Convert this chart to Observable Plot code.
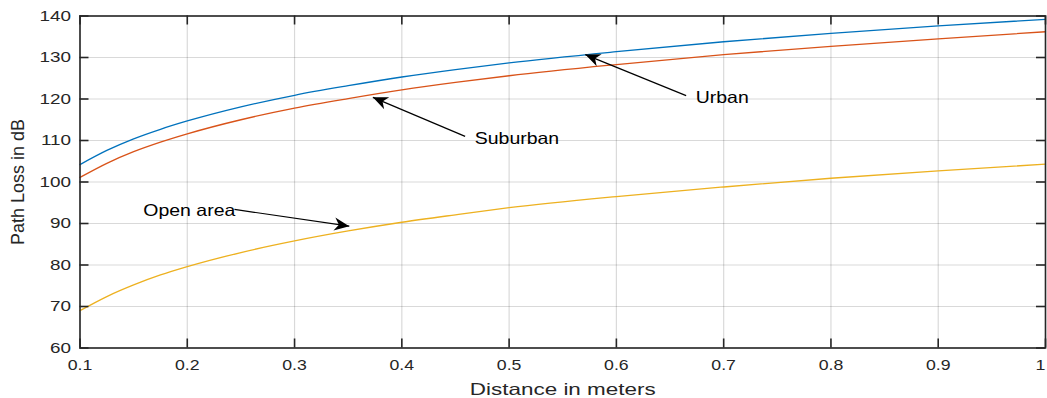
<!DOCTYPE html>
<html><head><meta charset="utf-8">
<script src="https://cdn.jsdelivr.net/npm/d3@7"></script>
<script src="https://cdn.jsdelivr.net/npm/@observablehq/plot@0.6"></script>
<style>
html,body{margin:0;padding:0;background:#fff;}
#chart svg{display:block;}
</style></head><body><div id="chart"></div>
<script>
// Data
const distance = [0.1, 0.125, 0.15, 0.175, 0.2, 0.25, 0.3, 0.35, 0.4, 0.45, 0.5, 0.6, 0.7, 0.8, 0.9, 1.0];
const urban    = [104.2, 107.6, 110.4, 112.7, 114.7, 118.1, 120.9, 123.2, 125.3, 127.1, 128.7, 131.4, 133.8, 135.8, 137.6, 139.2];
const suburban = [101.1, 104.5, 107.3, 109.6, 111.6, 115.0, 117.8, 120.1, 122.2, 124.0, 125.6, 128.3, 130.7, 132.7, 134.5, 136.2];
const openArea = [69.0, 72.4, 75.2, 77.6, 79.6, 83.0, 85.8, 88.2, 90.3, 92.1, 93.8, 96.5, 98.8, 100.9, 102.7, 104.3];

const seriesNames = ["Urban", "Suburban", "Open area"];
const seriesColors = ["#0072BD", "#D95319", "#EDB120"];

const xTicks = [0.1, 0.2, 0.3, 0.4, 0.5, 0.6, 0.7, 0.8, 0.9, 1.0];
const xTickLabels = ["0.1", "0.2", "0.3", "0.4", "0.5", "0.6", "0.7", "0.8", "0.9", "1"];
const yTicks = [60, 70, 80, 90, 100, 110, 120, 130, 140];
const yTickLabels = ["60", "70", "80", "90", "100", "110", "120", "130", "140"];

// Annotations: text anchor and arrow (tail -> tip) in data units
const noteText  = ["Urban", "Suburban", "Open area"];
const noteX     = [0.674, 0.468, 0.159];
const noteY     = [120.4, 110.5, 93.1];
const arrowX1   = [0.665, 0.459, 0.244];
const arrowY1   = [120.8, 111.0, 93.4];
const arrowX2   = [0.571, 0.373, 0.351];
const arrowY2   = [130.7, 120.4, 89.35];

const rows = [];
[urban, suburban, openArea].forEach((vals, s) => {
  distance.forEach((d, i) => rows.push({series: seriesNames[s], d, v: vals[i]}));
});
const notes = noteText.map((t, i) => ({t, x: noteX[i], y: noteY[i], x1: arrowX1[i], y1: arrowY1[i], x2: arrowX2[i], y2: arrowY2[i]}));

function headMarker(color) {
  const m = d3.create("svg:marker")
    .attr("viewBox", "-17 -8 19 16")
    .attr("markerWidth", 19).attr("markerHeight", 16)
    .attr("markerUnits", "userSpaceOnUse")
    .attr("orient", "auto")
    .attr("fill", color).attr("stroke", "none");
  m.append("path").attr("d", "M0,0L-15,-6.5L-10.5,0L-15,6.5Z");
  return m.node();
}

const W = 1047, H = 398, mL = 79.5, mR = 2, mT = 15.5, mB = 50.5, tick = 9;
const innerW = W - mL - mR, innerH = H - mT - mB;
const ink = "#262626";
const chart = Plot.plot({
  width: W, height: H,
  marginLeft: mL, marginRight: mR, marginTop: mT, marginBottom: mB,
  style: {fontFamily: "'Liberation Sans', Arial, sans-serif", fontSize: "15px", color: ink, background: "#fff"},
  x: {domain: [0.1, 1]},
  y: {domain: [60, 140]},
  color: {domain: seriesNames, range: seriesColors},
  marks: [
    Plot.gridX(xTicks, {stroke: "#000", strokeOpacity: 0.15, strokeWidth: 1.2}),
    Plot.gridY(yTicks, {stroke: "#000", strokeOpacity: 0.15, strokeWidth: 1.2}),
    Plot.line(rows, {x: "d", y: "v", z: "series", stroke: "series", strokeWidth: 1.3, curve: "monotone-x"}),
    Plot.link(notes, {x1: "x1", y1: "y1", x2: "x2", y2: "y2", stroke: "#000", strokeWidth: 1.2, markerEnd: headMarker}),
    Plot.text(notes, {x: "x", y: "y", text: "t", textAnchor: "start", lineAnchor: "middle", fill: "#000", fontSize: 16.5}),
    Plot.axisX(xTicks, {anchor: "bottom", tickSize: 0, tickPadding: 12, tickFormat: d => xTickLabels[xTicks.indexOf(d)], fontSize: 14.5, label: "Distance in meters", labelAnchor: "center", labelOffset: 47, labelArrow: "none"}),
    Plot.axisY(yTicks, {anchor: "left", tickSize: 0, tickPadding: 9, tickFormat: d => yTickLabels[yTicks.indexOf(d)], fontSize: 14.5, label: "Path Loss in dB", labelAnchor: "center", labelOffset: 69, labelArrow: "none"}),
    // inward ticks on all four sides
    Plot.ruleX(xTicks, {x: d => d, insetTop: innerH - tick, stroke: ink, strokeWidth: 1.6}),
    Plot.ruleX(xTicks, {x: d => d, insetBottom: innerH - tick, stroke: ink, strokeWidth: 1.6}),
    Plot.ruleY(yTicks, {y: d => d, insetRight: innerW - tick, stroke: ink, strokeWidth: 1.6}),
    Plot.ruleY(yTicks, {y: d => d, insetLeft: innerW - tick, stroke: ink, strokeWidth: 1.6}),
    Plot.frame({stroke: ink, strokeWidth: 1.6})
  ]
});
document.getElementById("chart").appendChild(chart);

// The reference glyphs are drawn wide: stretch text horizontally
function stretch(selector, k, size) {
  d3.select(chart).selectAll(selector).each(function () {
    if (size) this.style.fontSize = size + "px";
    const len = this.getComputedTextLength();
    if (len > 0) {
      this.setAttribute("textLength", (len * k).toFixed(1));
      this.setAttribute("lengthAdjust", "spacingAndGlyphs");
    }
  });
}
// last x tick label sits just inside the right edge, as in the reference
d3.select(chart).selectAll('g[aria-label="x-axis tick label"] text')
  .filter(function () { return this.textContent === xTickLabels[xTickLabels.length - 1]; })
  .attr("text-anchor", "end");
stretch('g[aria-label="x-axis tick label"] text', 1.22);
stretch('g[aria-label="y-axis tick label"] text', 1.3);
stretch('g[aria-label="x-axis label"] text', 1.36, 16.5);
stretch('g[aria-label="y-axis label"] text', 1.0, 18);
stretch('g[aria-label="text"] text', 1.18);
</script>
</body></html>
